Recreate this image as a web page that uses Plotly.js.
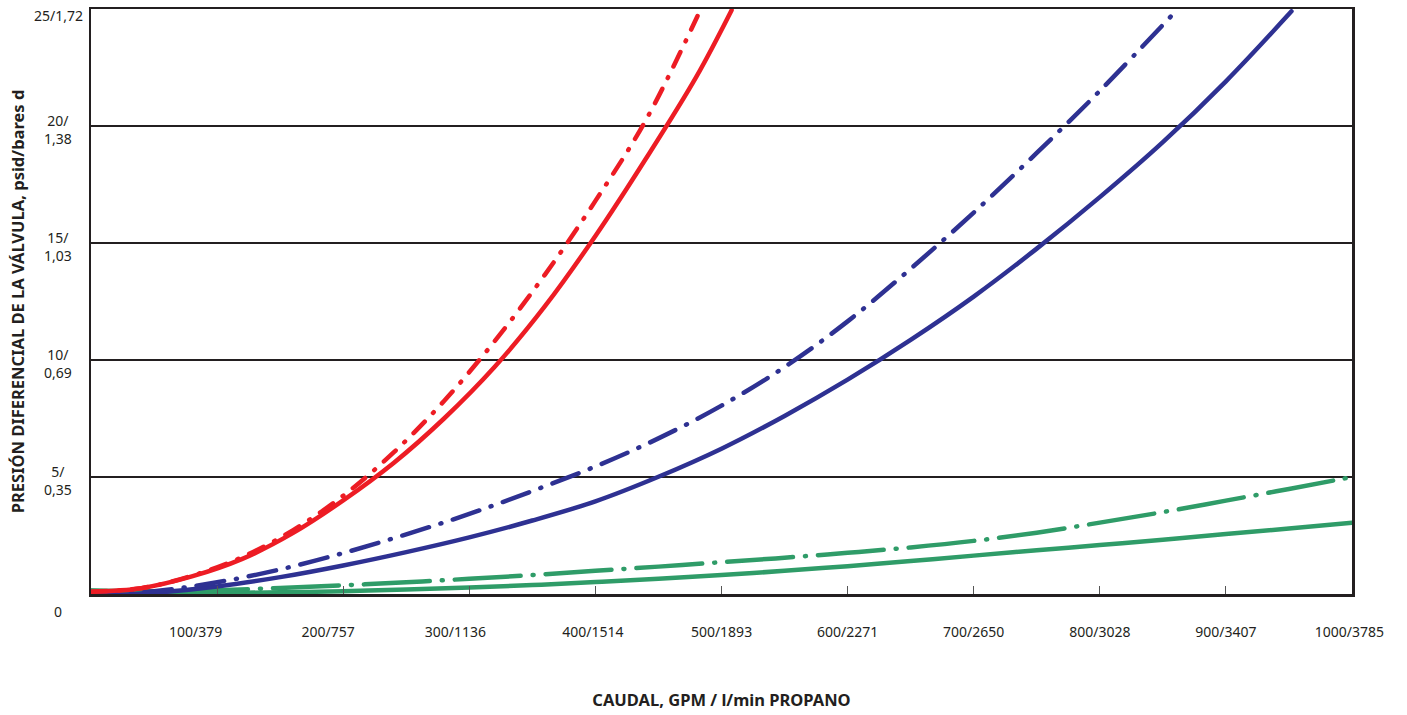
<!DOCTYPE html>
<html>
<head>
<meta charset="utf-8">
<script src="https://cdn.plot.ly/plotly-3.0.1.min.js"></script>
<style>
  html, body { margin: 0; padding: 0; background: #fff; }
  #chart { width: 1407px; height: 715px; }
  .scatterlayer path.js-line { stroke-linecap: round; stroke-linejoin: round; }
</style>
</head>
<body>
<div id="chart"></div>
<script>
// ---- data (flow in GPM, pressure drop in psid) ----
const redSolidX   = [0, 40, 80, 120, 160, 200, 240, 280, 320, 360, 400, 440, 480, 508];
const redSolidY   = [0.1, 0.25, 0.75, 1.5, 2.6, 4.0, 5.6, 7.5, 9.7, 12.3, 15.3, 18.6, 22.1, 24.95];
const redDashX    = [0, 40, 80, 120, 160, 200, 240, 280, 320, 360, 400, 440, 481];
const redDashY    = [0.1, 0.25, 0.78, 1.58, 2.72, 4.2, 6.05, 8.25, 10.8, 13.65, 16.8, 20.25, 24.7];
const blueSolidX  = [0, 50, 100, 150, 200, 250, 300, 350, 400, 450, 500, 550, 600, 650, 700, 750, 800, 850, 900, 952];
const blueSolidY  = [-0.1, 0.05, 0.32, 0.72, 1.22, 1.79, 2.42, 3.14, 3.96, 5.01, 6.21, 7.61, 9.16, 10.86, 12.71, 14.76, 16.96, 19.31, 21.91, 24.9];
const blueDashX   = [0, 50, 100, 150, 200, 250, 300, 350, 400, 450, 500, 550, 600, 650, 700, 750, 800, 861];
const blueDashY   = [-0.05, 0.12, 0.5, 1.05, 1.75, 2.55, 3.42, 4.4, 5.45, 6.65, 8.05, 9.7, 11.65, 13.9, 16.3, 18.85, 21.5, 24.95];
const greenSolidX = [0, 50, 100, 150, 200, 250, 300, 350, 400, 450, 500, 550, 600, 650, 700, 750, 800, 850, 900, 950, 1000];
const greenSolidY = [0.14, 0.08, 0.05, 0.07, 0.12, 0.19, 0.28, 0.38, 0.51, 0.65, 0.81, 0.99, 1.19, 1.41, 1.64, 1.87, 2.09, 2.32, 2.56, 2.8, 3.05];
const greenDashX  = [0, 50, 100, 150, 200, 250, 300, 350, 400, 450, 500, 550, 600, 650, 700, 750, 800, 850, 900, 950, 1000];
const greenDashY  = [0.15, 0.12, 0.16, 0.26, 0.37, 0.5, 0.65, 0.81, 0.99, 1.17, 1.36, 1.55, 1.76, 1.99, 2.27, 2.62, 3.05, 3.5, 3.99, 4.49, 5.0];

// tick labels
const xTickVals   = [100, 200, 300, 400, 500, 600, 700, 800, 900];
const xLabelPos   = [83, 188, 289, 398, 500, 600, 700, 800, 900, 998];
const xLabelText  = ['100/379', '200/757', '300/1136', '400/1514', '500/1893', '600/2271', '700/2650', '800/3028', '900/3407', '1000/3785'];
const yTickVals   = [0, 5, 10, 15, 20, 25];
const yTickText   = ['0', '5/<br>0,35', '10/<br>0,69', '15/<br>1,03', '20/<br>1,38', '25/1,72'];

const RED = '#ed1c24', BLUE = '#2e3192', GREEN = '#2f9c68';
const FONT = 'Noto Sans, Open Sans, sans-serif';

function tr(x, y, color, dash) {
  return {
    x: x, y: y, type: 'scatter', mode: 'lines', hoverinfo: 'skip', showlegend: false,
    line: { color: color, width: 4.5, shape: 'spline', smoothing: 1, dash: dash }
  };
}

const traces = [
  tr(greenSolidX, greenSolidY, GREEN, 'solid'),
  tr(greenDashX, greenDashY, GREEN, '66px,12px,1px,12px'),
  tr(blueSolidX, blueSolidY, BLUE, 'solid'),
  tr(blueDashX, blueDashY, BLUE, '28px,12px,1px,12px'),
  tr(redDashX, redDashY, RED, '16px,12px,1px,12px'),
  tr(redSolidX, redSolidY, RED, 'solid'),
  // invisible trace to activate the overlay axis carrying the tick marks
  { x: [0, 1000], y: [0, 0], xaxis: 'x2', type: 'scatter', mode: 'lines', line: { width: 0 }, hoverinfo: 'skip', showlegend: false }
];

const annotations = yTickVals.map((v, i) => ({
  xref: 'paper', yref: 'y', x: -33 / 1261, y: v, xanchor: 'center', yanchor: 'middle',
  text: yTickText[i], showarrow: false, align: 'center',
  yshift: v === 0 ? -17 : (v === 25 ? -6 : -3),
  font: { family: FONT, size: 14, color: '#231f20' }
}));

const layout = {
  width: 1407, height: 715,
  margin: { l: 91, r: 55, t: 9, b: 121 },
  paper_bgcolor: '#ffffff', plot_bgcolor: '#ffffff',
  font: { family: FONT, color: '#231f20' },
  xaxis: {
    range: [0, 1000], showgrid: false, zeroline: false,
    showline: true, linecolor: '#231f20', linewidth: 2.5, mirror: true,
    tickmode: 'array', tickvals: xLabelPos, ticktext: xLabelText, ticks: '',
    ticklabelstandoff: 24,
    tickfont: { family: FONT, size: 14, color: '#231f20' },
    title: { text: '<b>CAUDAL, GPM / l/min PROPANO</b>', standoff: 54,
             font: { family: FONT, size: 16.5, color: '#231f20' } }
  },
  xaxis2: {
    range: [0, 1000], overlaying: 'x', anchor: 'y', side: 'bottom',
    showgrid: false, zeroline: false, showline: false, showticklabels: false,
    tickmode: 'array', tickvals: xTickVals, ticks: 'inside', ticklen: 8, tickwidth: 1, tickcolor: '#555555'
  },
  yaxis: {
    range: [0, 25], zeroline: false,
    showline: true, linecolor: '#231f20', linewidth: 2.5, mirror: true,
    showgrid: true, gridcolor: '#231f20', gridwidth: 1.2,
    tickmode: 'array', tickvals: yTickVals, showticklabels: false, ticks: '',
    title: { text: '<b>PRESIÓN DIFERENCIAL DE LA VÁLVULA, psid/bares d</b>', standoff: 60,
             font: { family: FONT, size: 16.5, color: '#231f20' } }
  },
  annotations: annotations,
  showlegend: false
};

Plotly.newPlot('chart', traces, layout, { displayModeBar: false, staticPlot: true });
</script>
</body>
</html>
